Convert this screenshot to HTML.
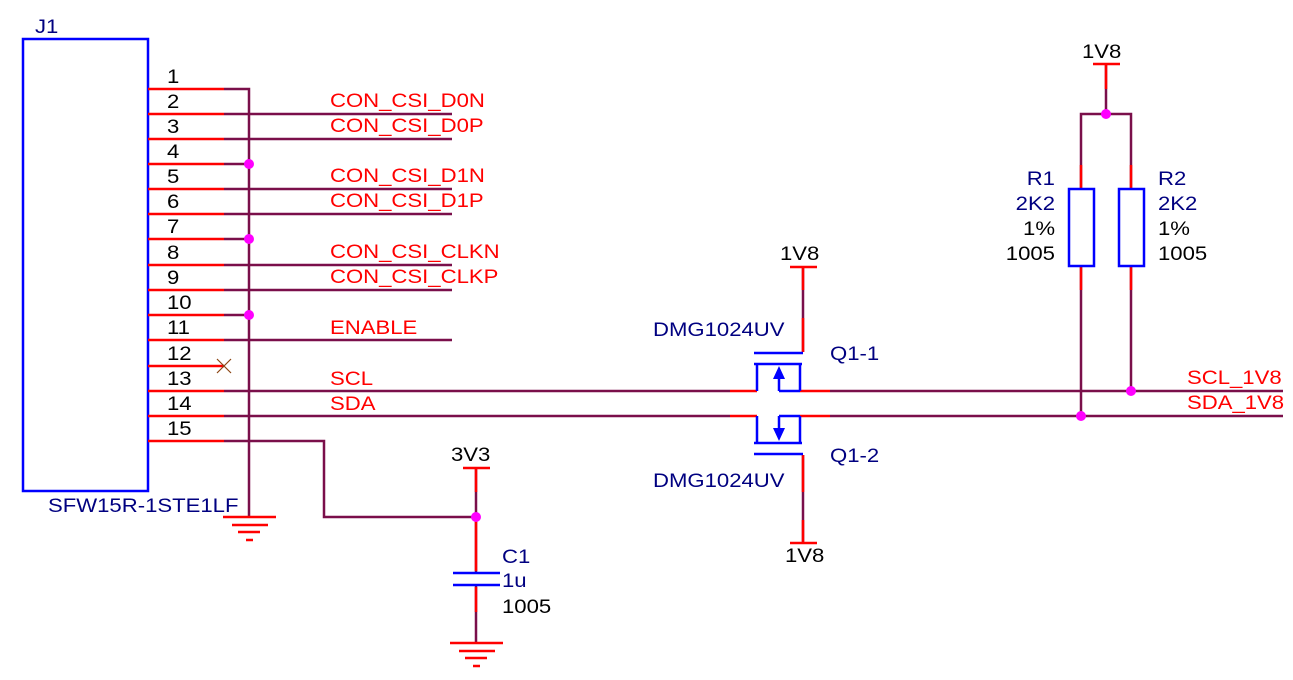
<!DOCTYPE html>
<html><head><meta charset="utf-8"><style>
html,body{margin:0;padding:0;background:#fff}
svg{display:block}
text{font-family:"Liberation Sans",sans-serif;font-size:19px;transform-box:fill-box;transform-origin:0 0;transform:scaleX(1.165)}
.e text{transform-origin:100% 0}
.w{stroke:#7a0f4a;stroke-width:2.5;fill:none}
.r{stroke:#ff0000;stroke-width:2.5;fill:none}
.b{stroke:#0000ff;stroke-width:2.5;fill:none}
.k{fill:#000}.n{fill:#000080}.rt{fill:#ff0000}
.d{fill:#ff00ff}
</style></head><body>
<svg width="1293" height="680" viewBox="0 0 1293 680" xmlns="http://www.w3.org/2000/svg">
<rect x="23" y="39" width="125" height="452" class="b"/>
<text x="35" y="33" class="n">J1</text>
<text x="48" y="512" class="n">SFW15R-1STE1LF</text>
<g class="w">
<path d="M224 89H249V517"/>
<path d="M224 114H452M224 139H452M224 164H249M224 189H452M224 214H452M224 239H249M224 265H452M224 290H452M224 315H249M224 340H452"/>
<path d="M224 391H730M224 416H730"/>
<path d="M224 441H324V517H476"/>
</g>
<g class="r">
<path d="M148 89H224M148 114H224M148 139H224M148 164H224M148 189H224M148 214H224M148 239H224M148 265H224M148 290H224M148 315H224M148 340H224M148 366H224M148 391H224M148 416H224M148 441H224"/>
</g>
<path d="M217 359L231 373M231 359L217 373" stroke="#8b4513" stroke-width="1.2"/>
<g class="k">
<text x="167" y="83">1</text><text x="167" y="108">2</text><text x="167" y="133">3</text><text x="167" y="158">4</text><text x="167" y="183">5</text><text x="167" y="208">6</text><text x="167" y="233">7</text><text x="167" y="259">8</text><text x="167" y="284">9</text><text x="167" y="309">10</text><text x="167" y="334">11</text><text x="167" y="360">12</text><text x="167" y="385">13</text><text x="167" y="410">14</text><text x="167" y="435">15</text>
</g>
<g class="rt">
<text x="330" y="107">CON_CSI_D0N</text><text x="330" y="132">CON_CSI_D0P</text>
<text x="330" y="182">CON_CSI_D1N</text><text x="330" y="207">CON_CSI_D1P</text>
<text x="330" y="258">CON_CSI_CLKN</text><text x="330" y="283">CON_CSI_CLKP</text>
<text x="330" y="334">ENABLE</text>
<text x="330" y="385">SCL</text><text x="330" y="410">SDA</text>
<text x="1187" y="384">SCL_1V8</text><text x="1187" y="409">SDA_1V8</text>
</g>
<circle cx="249" cy="164" r="5" class="d"/><circle cx="249" cy="239" r="5" class="d"/><circle cx="249" cy="315" r="5" class="d"/>
<g class="r"><path d="M223 517H276M232 525H268M238 532H260M246 540H253"/></g>
<text x="451" y="461" class="k">3V3</text>
<path d="M476 467V643" class="w"/>
<g class="r"><path d="M463 468H490M476 468V492M476 543V571M476 587V612M476 543V517"/>
<path d="M450 643H503M459 651H495M465 658H487M473 666H480"/></g>
<rect x="453" y="574" width="48" height="10" fill="#fff"/>
<path d="M453 573H500M453 585H500" class="b"/>
<circle cx="476" cy="517" r="5" class="d"/>
<text x="502" y="563" class="n">C1</text>
<text x="502" y="587" class="n">1u</text>
<text x="502" y="613" class="k">1005</text>
<text x="780" y="260" class="k">1V8</text>
<text x="785" y="562" class="k">1V8</text>
<text x="653" y="336" class="n">DMG1024UV</text>
<text x="653" y="487" class="n">DMG1024UV</text>
<text x="830" y="360" class="n">Q1-1</text>
<text x="830" y="462" class="n">Q1-2</text>
<g class="w"><path d="M803 266V352M803 455V543"/><path d="M830 391H1283M830 416H1283"/></g>
<g class="r"><path d="M790 267H817M803 267V290M803 318V352"/><path d="M790 543H817M803 543V520M803 492V455"/>
<path d="M730 391H757M800 391H830M730 416H757M800 416H830"/></g>
<g class="b">
<path d="M754 353H803M754 364H802M757 364V391M800 364V391M779 391H800M779 391V376"/>
<path d="M754 454H803M754 443H802M757 416V443M800 416V443M779 416H800M779 416V431"/>
</g>
<path d="M779 366L773 379H785Z" fill="#0000ff"/>
<path d="M779 441L773 428H785Z" fill="#0000ff"/>
<text x="1082" y="58" class="k">1V8</text>
<g class="w"><path d="M1106 64V114M1081 189V114H1131V189M1081 266V416M1131 266V391"/></g>
<g class="r"><path d="M1093 64H1120M1106 64V89M1081 165V189M1131 165V189M1081 266V290M1131 266V290"/></g>
<rect x="1069" y="189" width="25" height="77" class="b" fill="#fff"/>
<rect x="1119" y="189" width="25" height="77" class="b" fill="#fff"/>
<circle cx="1106" cy="114" r="5" class="d"/>
<circle cx="1131" cy="391" r="5" class="d"/>
<circle cx="1081" cy="416" r="5" class="d"/>
<g class="e">
<g class="n" text-anchor="end"><text x="1055" y="185">R1</text><text x="1055" y="210">2K2</text></g>
<g class="k" text-anchor="end"><text x="1055" y="235">1%</text><text x="1055" y="260">1005</text></g>
</g>
<g class="n"><text x="1158" y="185">R2</text><text x="1158" y="210">2K2</text></g>
<g class="k"><text x="1158" y="235">1%</text><text x="1158" y="260">1005</text></g>
</svg>
</body></html>
